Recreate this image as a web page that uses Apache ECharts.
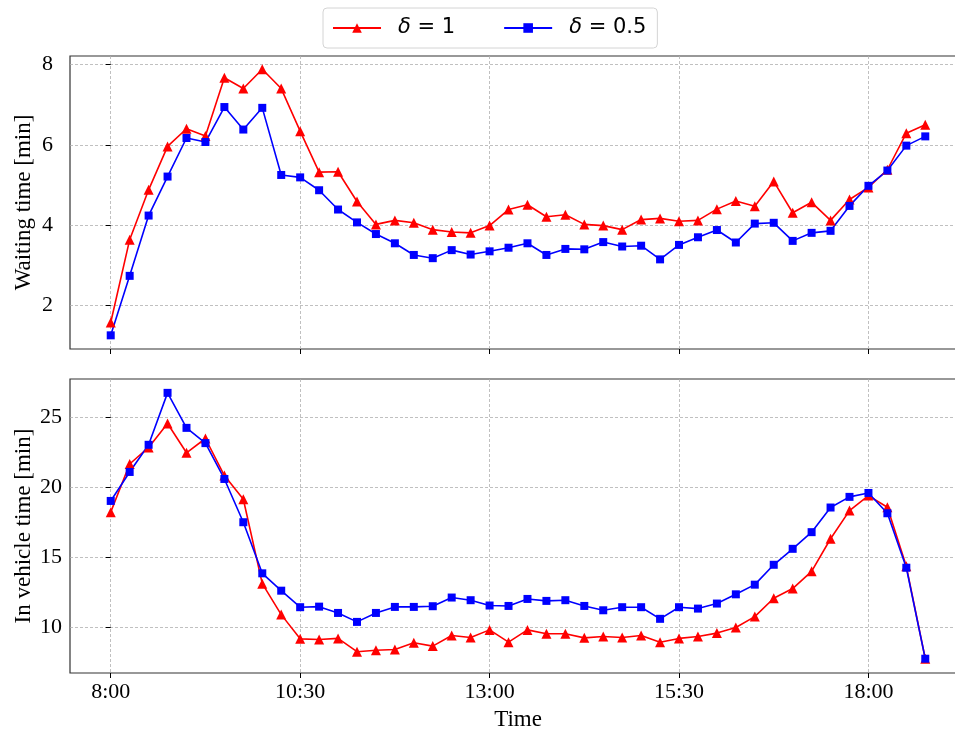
<!DOCTYPE html>
<html>
<head>
<meta charset="utf-8">
<script src="https://cdn.jsdelivr.net/npm/echarts@6/dist/echarts.min.js"></script>
<style>
  html, body { margin: 0; padding: 0; background: #fff; }
  #chart { width: 955px; height: 730px; }
</style>
</head>
<body>
<div id="chart"></div>
<script>
// x = index of 15-minute slot starting at 8:00 (0 .. 43 -> 8:00 .. 18:45)
var tickPos = [0, 10, 20, 30, 40];
var tickLabels = ['8:00', '10:30', '13:00', '15:30', '18:00'];

var waitD1 = [1.58, 3.64, 4.88, 5.96, 6.40, 6.22, 7.67, 7.40, 7.88, 7.40,
  6.34, 5.32, 5.33, 4.59, 4.02, 4.12, 4.06, 3.89, 3.83, 3.81,
  3.99, 4.39, 4.51, 4.21, 4.26, 4.02, 3.99, 3.89, 4.14, 4.17,
  4.10, 4.12, 4.40, 4.60, 4.47, 5.09, 4.31, 4.57, 4.12, 4.64,
  4.94, 5.38, 6.29, 6.50];
var waitD05 = [1.26, 2.74, 4.24, 5.21, 6.17, 6.07, 6.94, 6.38, 6.92, 5.25,
  5.19, 4.87, 4.39, 4.07, 3.78, 3.55, 3.26, 3.18, 3.38, 3.27,
  3.35, 3.44, 3.55, 3.26, 3.41, 3.40, 3.58, 3.47, 3.49, 3.15,
  3.51, 3.70, 3.88, 3.57, 4.04, 4.06, 3.61, 3.81, 3.86, 4.48,
  4.98, 5.36, 5.98, 6.21];
var ivtD1 = [18.24, 21.68, 22.86, 24.57, 22.48, 23.50, 20.85, 19.16, 13.13, 10.92,
  9.19, 9.14, 9.22, 8.27, 8.38, 8.43, 8.91, 8.67, 9.43, 9.29,
  9.83, 8.95, 9.83, 9.55, 9.55, 9.26, 9.36, 9.29, 9.43, 8.95,
  9.22, 9.36, 9.60, 10.00, 10.78, 12.09, 12.78, 14.01, 16.34, 18.35,
  19.42, 18.59, 14.37, 7.77];
var ivtD05 = [19.04, 21.11, 23.05, 26.76, 24.26, 23.17, 20.61, 17.52, 13.87, 12.63,
  11.45, 11.49, 11.04, 10.40, 11.04, 11.47, 11.47, 11.52, 12.14, 11.95,
  11.57, 11.54, 12.04, 11.90, 11.95, 11.54, 11.23, 11.45, 11.45, 10.62,
  11.45, 11.35, 11.71, 12.37, 13.06, 14.48, 15.62, 16.81, 18.57, 19.33,
  19.61, 18.16, 14.27, 7.77];

function pairs(arr) {
  return arr.map(function (v, i) { return [i, v]; });
}

var chart = echarts.init(document.getElementById('chart'));
var serif = 'Liberation Serif';
var gridLine = { show: true, lineStyle: { color: '#b0b0b0', width: 0.8, type: [3, 2] } };

function xAxis(idx, showLabel) {
  return {
    type: 'value', gridIndex: idx, min: -2.15, max: 45.15,
    axisLine: { show: false },
    axisTick: { show: true, inside: false, length: 5, customValues: tickPos, lineStyle: { color: '#000' } },
    axisLabel: {
      show: showLabel, customValues: tickPos, margin: 8,
      fontFamily: serif, fontSize: 22, color: '#000',
      formatter: function (v) { return tickLabels[tickPos.indexOf(Math.round(v))] || ''; }
    },
    splitLine: gridLine,
    name: showLabel ? 'Time' : '', nameLocation: 'middle', nameGap: 35,
    nameTextStyle: { fontFamily: serif, fontSize: 23, color: '#000' }
  };
}

function yAxis(idx, min, max, ticks, name, labelGap) {
  return {
    type: 'value', gridIndex: idx, min: min, max: max,
    axisLine: { show: false },
    axisTick: { show: true, length: 5, customValues: ticks, lineStyle: { color: '#000' } },
    axisLabel: { customValues: ticks, fontFamily: serif, fontSize: 22, color: '#000', margin: labelGap },
    splitLine: gridLine,
    name: name, nameLocation: 'middle', nameGap: 35, nameRotate: 90, nameMoveOverlap: false,
    nameTextStyle: { fontFamily: serif, fontSize: 23, color: '#000' }
  };
}

function series(name, data, idx, color, symbol, size) {
  return {
    name: name, type: 'line', xAxisIndex: idx, yAxisIndex: idx,
    data: pairs(data), symbol: symbol, symbolSize: size, showAllSymbol: true,
    color: color, lineStyle: { color: color, width: 1.6 },
    itemStyle: { color: color }, animation: false
  };
}

chart.setOption({
  animation: false,
  legend: {
    top: 8, left: 323,
    data: ['δ1', 'δ05'],
    itemWidth: 48, itemHeight: 12, itemGap: 48,
    padding: [8, 11, 8, 9],
    borderColor: '#d4d4d4', borderWidth: 1, borderRadius: 4,
    formatter: function (n) {
      return n === 'δ1' ? '{i|δ} = 1' : '{i|δ} = 0.5';
    },
    textStyle: {
      fontFamily: 'DejaVu Sans', fontSize: 21, color: '#000', padding: [0, 0, 0, 12], lineHeight: 24,
      rich: { i: { fontFamily: 'DejaVu Sans', fontStyle: 'italic', fontSize: 21, lineHeight: 24 } }
    }
  },
  grid: [
    { left: 70, width: 896, top: 56, height: 293, outerBoundsMode: 'none', containLabel: false,
      show: true, borderColor: '#333', borderWidth: 1.2, backgroundColor: 'transparent' },
    { left: 70, width: 896, top: 379, height: 294, outerBoundsMode: 'none', containLabel: false,
      show: true, borderColor: '#333', borderWidth: 1.2, backgroundColor: 'transparent' }
  ],
  xAxis: [xAxis(0, false), xAxis(1, true)],
  yAxis: [
    yAxis(0, 0.92, 8.21, [2, 4, 6, 8], 'Waiting time [min]', 17),
    yAxis(1, 6.75, 27.75, [10, 15, 20, 25], 'In vehicle time [min]', 8)
  ],
  series: [
    series('δ1', waitD1, 0, '#ff0000', 'triangle', 10),
    series('δ05', waitD05, 0, '#0000ff', 'rect', 8),
    series('δ1', ivtD1, 1, '#ff0000', 'triangle', 10),
    series('δ05', ivtD05, 1, '#0000ff', 'rect', 8)
  ]
});
</script>
</body>
</html>
